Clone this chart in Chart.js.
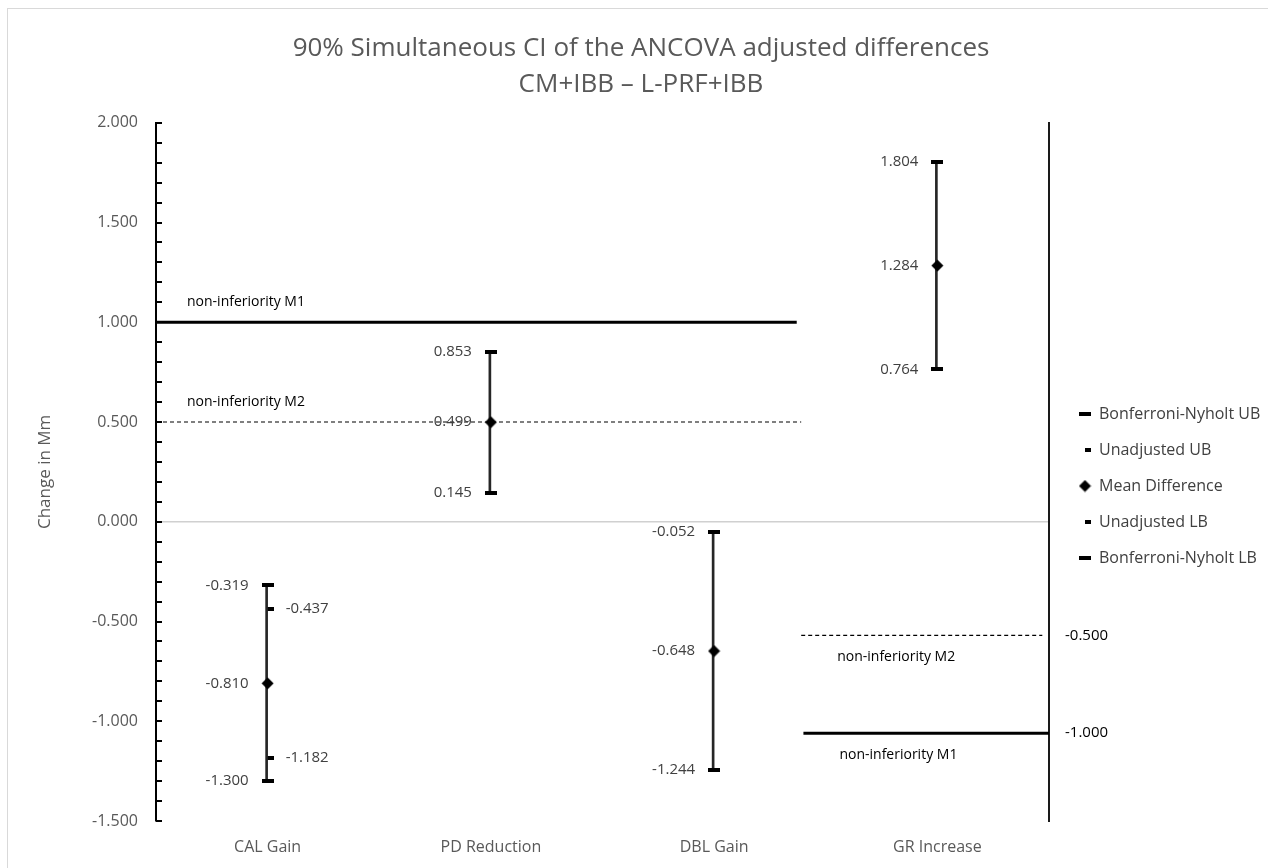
<!DOCTYPE html>
<html>
<head>
<meta charset="utf-8">
<script src="https://cdn.jsdelivr.net/npm/chart.js@4.4.1/dist/chart.umd.min.js"></script>
<style>
html, body { margin: 0; padding: 0; background: #fff; }
#wrap { position: relative; width: 1268px; height: 868px; overflow: hidden; }
#frame { position: absolute; left: 7px; top: 8px; width: 1300px; height: 900px; border: 1px solid #d9d9d9; }
#chart { position: absolute; left: 0; top: 0; }
</style>
</head>
<body>
<div id="wrap"><div id="frame"></div><canvas id="chart" width="1268" height="868"></canvas></div>
<script>
var categories = ["CAL Gain", "PD Reduction", "DBL Gain", "GR Increase"];
var bonfUB = [-0.319, 0.853, -0.052, 1.804];
var unadjUB = [-0.437, null, null, null];
var meanDiff = [-0.810, 0.499, -0.648, 1.284];
var unadjLB = [-1.182, null, null, null];
var bonfLB = [-1.300, 0.145, -1.244, 0.764];

var yMin = -1.5, yMax = 2.0, yStep = 0.5;
var minorPerMajor = 5;

// non-inferiority margins: main (left) axis and right axis
var marginM1 = 1.0, marginM2 = 0.5;
var rightM1 = -1.0, rightM2 = -0.5;
var rightTicks = [-0.5, -1.0];
var y2Min = -1.449, y2Max = 2.122;

// extents of the margin lines, in category units
var spanM1Left = [-0.5, 2.37];
var spanM2Left = [-0.5, 2.39];
var spanM2Right = [2.39, 3.47];
var spanM1Right = [2.40, 3.5];

var FONT = '"Open Sans", "DejaVu Sans", sans-serif';

function marker(w, h, draw) {
    var c = document.createElement('canvas');
    c.width = w; c.height = h;
    var g = c.getContext('2d');
    g.fillStyle = '#000';
    draw(g);
    return c;
}
var capWide = marker(12, 4, function (g) { g.fillRect(0, 0, 12, 4); });
var capSmall = marker(12, 4, function (g) { g.fillRect(6, 0, 6, 4); });
var diamond = marker(13, 13, function (g) {
    g.beginPath();
    g.moveTo(6.5, 0.5); g.lineTo(12.5, 6.5); g.lineTo(6.5, 12.5); g.lineTo(0.5, 6.5);
    g.closePath(); g.fill();
});

function pts(name, data, style, side) {
    return {
        type: 'line', label: name, data: data, showLine: false,
        pointStyle: style, pointRadius: 6, pointHoverRadius: 6,
        borderWidth: 0, backgroundColor: '#000', borderColor: '#000',
        valueSide: side
    };
}
function refLine(val, span, axis, w, dash, name, below) {
    return {
        type: 'line', xAxisID: 'xr', yAxisID: axis,
        data: [{x: span[0], y: val}, {x: span[1], y: val}],
        borderColor: '#000', borderWidth: w, borderDash: dash,
        pointRadius: 0, refLabel: name, labelBelow: below
    };
}

var valueLabels = {
    id: 'valueLabels',
    afterDatasetsDraw: function (chart) {
        var ctx = chart.ctx;
        ctx.save();
        ctx.textBaseline = 'middle';
        ctx.fillStyle = '#404040';
        ctx.font = '15px ' + FONT;
        chart.data.datasets.forEach(function (ds, di) {
            if (!ds.valueSide) return;
            chart.getDatasetMeta(di).data.forEach(function (pt, i) {
                var v = ds.data[i];
                if (v === null) return;
                var left = ds.valueSide === 'left';
                ctx.textAlign = left ? 'right' : 'left';
                ctx.fillText(v.toFixed(3), pt.x + (left ? -19 : 18), pt.y);
            });
        });
        // margin line labels
        ctx.fillStyle = '#000';
        ctx.font = '14px ' + FONT;
        ctx.textAlign = 'left';
        chart.data.datasets.forEach(function (ds, di) {
            if (!ds.refLabel) return;
            var p = chart.getDatasetMeta(di).data[0];
            var dx = ds.labelBelow ? 36 : 31;
            ctx.fillText(ds.refLabel, p.x + dx, p.y + (ds.labelBelow ? 22 : -20));
        });
        // right axis labels
        var s2 = chart.scales.y2;
        ctx.font = '15px ' + FONT;
        rightTicks.forEach(function (v) {
            ctx.fillText(v.toFixed(3), s2.left + 16, s2.getPixelForValue(v));
        });
        ctx.restore();
    }
};

var minorTicks = {
    id: 'minorTicks',
    afterDraw: function (chart) {
        var s = chart.scales.y, ctx = chart.ctx;
        var n = Math.round((yMax - yMin) / yStep) * minorPerMajor;
        ctx.save();
        ctx.strokeStyle = '#000';
        ctx.lineWidth = 2;
        for (var i = 0; i <= n; i++) {
            var py = Math.round(s.getPixelForValue(yMin + i * yStep / minorPerMajor));
            ctx.beginPath();
            ctx.moveTo(s.right, py);
            ctx.lineTo(s.right + 6, py);
            ctx.stroke();
        }
        ctx.restore();
    }
};

var chart = new Chart(document.getElementById('chart'), {
    type: 'bar',
    data: {
        labels: categories,
        datasets: [
            pts('Bonferroni-Nyholt UB', bonfUB, capWide, 'left'),
            pts('Unadjusted UB', unadjUB, capSmall, 'right'),
            pts('Mean Difference', meanDiff, diamond, 'left'),
            pts('Unadjusted LB', unadjLB, capSmall, 'right'),
            pts('Bonferroni-Nyholt LB', bonfLB, capWide, 'left'),
            {
                type: 'bar', label: 'CI',
                data: categories.map(function (c, i) { return [bonfLB[i], bonfUB[i]]; }),
                backgroundColor: '#262626', barThickness: 2
            },
            refLine(marginM1, spanM1Left, 'y', 3, [], 'non-inferiority M1', false),
            refLine(marginM2, spanM2Left, 'y', 1.2, [4, 3], 'non-inferiority M2', false),
            refLine(rightM2, spanM2Right, 'y2', 1.2, [4, 3], 'non-inferiority M2', true),
            refLine(rightM1, spanM1Right, 'y2', 3, [], 'non-inferiority M1', true)
        ]
    },
    options: {
        responsive: false,
        animation: false,
        layout: { padding: { left: 14, right: 0, top: 0, bottom: 12 } },
        plugins: {
            tooltip: { enabled: false },
            title: {
                display: true,
                text: ['90% Simultaneous CI of the ANCOVA adjusted differences', 'CM+IBB \u2013 L-PRF+IBB'],
                color: '#595959',
                font: { family: FONT, size: 26, weight: 'normal', lineHeight: 1.38 },
                padding: { top: 31, bottom: 20 }
            },
            legend: {
                position: 'right',
                title: { display: true, text: ' ', font: { size: 10 }, padding: { top: 104, bottom: 0 } },
                labels: {
                    filter: function (item) { return item.datasetIndex < 5; },
                    usePointStyle: true,
                    boxWidth: 12,
                    color: '#404040',
                    font: { family: FONT, size: 16 },
                    padding: 20
                }
            }
        },
        scales: {
            x: {
                type: 'category',
                grid: { display: false, drawTicks: false },
                border: { display: false },
                ticks: { color: '#595959', font: { family: FONT, size: 16 }, padding: 17 },
                afterFit: function (s) { s.height = 35; }
            },
            xr: { type: 'linear', display: false, offset: false, min: -0.5, max: 3.5 },
            y: {
                min: yMin, max: yMax,
                ticks: {
                    stepSize: yStep, color: '#595959', padding: 18,
                    font: { family: FONT, size: 16 },
                    callback: function (v) { return v.toFixed(3); }
                },
                grid: {
                    drawTicks: false,
                    color: function (c) { return c.tick && c.tick.value === 0 ? '#d0d0d0' : 'rgba(0,0,0,0)'; },
                    lineWidth: 1.5
                },
                border: { color: '#000', width: 2 },
                title: {
                    display: true, text: 'Change in Mm', color: '#595959',
                    font: { family: FONT, size: 17 }, padding: { top: 21, bottom: 0 }
                },
                afterFit: function (s) { s.width = 142; }
            },
            y2: {
                position: 'right',
                min: y2Min, max: y2Max,
                ticks: { display: false },
                grid: { display: false, drawTicks: false },
                border: { color: '#1a1a1a', width: 2 },
                afterFit: function (s) { s.width = 10; }
            }
        }
    },
    plugins: [valueLabels, minorTicks]
});
</script>
</body>
</html>
